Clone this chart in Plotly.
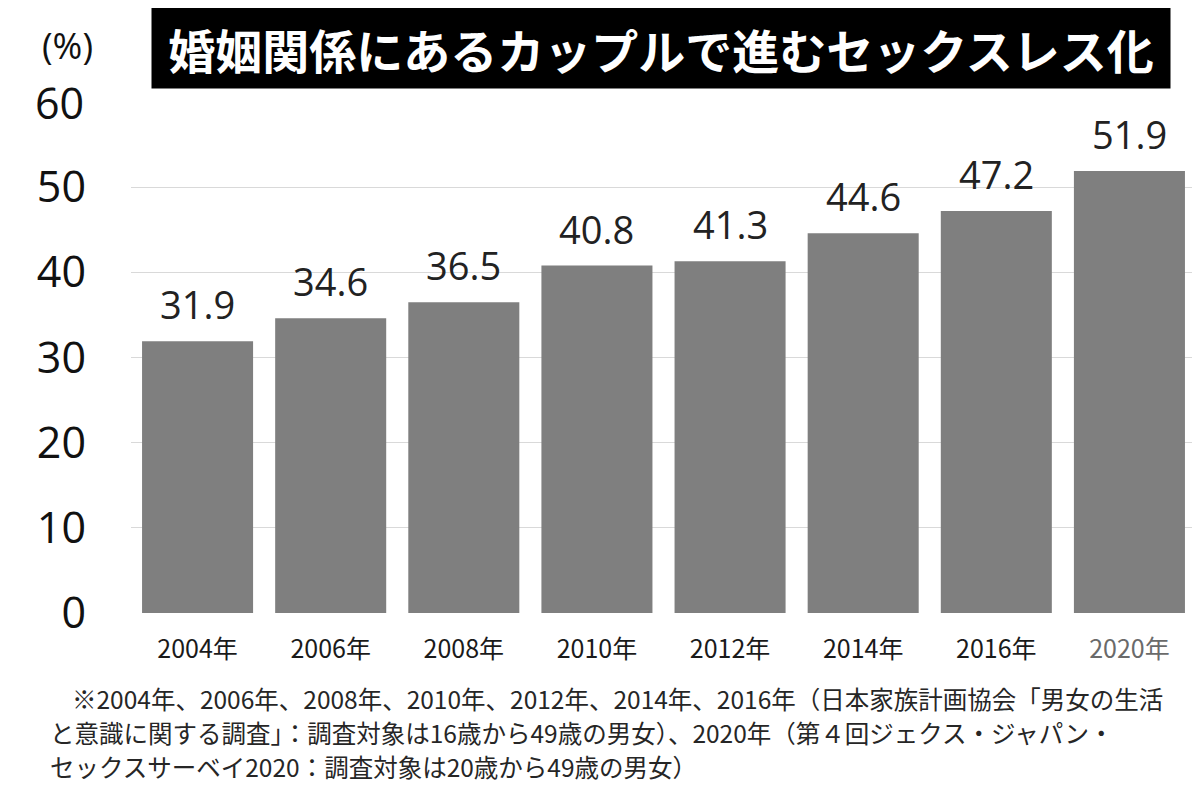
import plotly.graph_objects as go

categories = ["2004年", "2006年", "2008年", "2010年", "2012年", "2014年", "2016年", "2020年"]
values = [31.9, 34.6, 36.5, 40.8, 41.3, 44.6, 47.2, 51.9]
tick_colors = ["#1a1a1a"] * 7 + ["#6a6a6a"]
grid_ticks = [0, 10, 20, 30, 40, 50]
top_tick = 60

title_text = "婚姻関係にあるカップルで進むセックスレス化"
unit_text = "(%)"
note_lines = [
    "※2004年、2006年、2008年、2010年、2012年、2014年、2016年（日本家族計画協会「男女の生活",
    "と意識に関する調査」：調査対象は16歳から49歳の男女）、2020年（第４回ジェクス・ジャパン・",
    "セックスサーベイ2020：調査対象は20歳から49歳の男女）",
]

# page has an 8px body margin; build figure in page coordinates
OFF = 8
W, H = 1192, 793
PLOT_L, PLOT_R, PLOT_T, PLOT_B = 131, 1196, 101.5, 613   # in page pixels
L = PLOT_L - OFF
R = W - (PLOT_R - OFF)
T = PLOT_T - OFF
B = H - (PLOT_B - OFF)
PW, PH = W - L - R, H - T - B


def px(x):
    return (x - OFF - L) / PW


def py(y):
    return (H - B - (y - OFF)) / PH


fig = go.Figure()
fig.add_trace(go.Bar(
    x=categories, y=values,
    marker=dict(color="#7f7f7f", line=dict(width=0)),
    hoverinfo="skip",
))

for cat, v in zip(categories, values):
    fig.add_annotation(
        x=cat, y=v, xref="x", yref="y", text=f"{v:.1f}",
        showarrow=False, yanchor="bottom", yshift=9,
        font=dict(family="Open Sans", size=38, color="#222222"),
    )

# top tick label (no gridline drawn at the top of the reference)
fig.add_annotation(
    x=px(86), y=top_tick, xref="paper", yref="y", text=str(top_tick),
    showarrow=False, xanchor="right", yanchor="middle",
    font=dict(family="Open Sans", size=43, color="#111111"),
)

fig.add_annotation(
    x=px(661), y=py(47), xref="paper", yref="paper",
    text=f"<b>{title_text}</b>", showarrow=False,
    xanchor="center", yanchor="middle",
    bgcolor="#000000", width=1010, height=72, borderpad=4,
    font=dict(family="Noto Sans CJK JP", size=47, color="#ffffff"),
)
fig.add_annotation(
    x=px(67), y=py(45), xref="paper", yref="paper",
    text=unit_text, showarrow=False, xanchor="center", yanchor="middle",
    font=dict(family="Open Sans", size=36, color="#111111"),
)

note_x = [70, 48, 48]
note_y = [699, 733, 767]
for t, nx, ny in zip(note_lines, note_x, note_y):
    fig.add_annotation(
        x=px(nx), y=py(ny), xref="paper", yref="paper",
        text=t, showarrow=False, xanchor="left", yanchor="middle", align="left",
        font=dict(family="Noto Sans CJK JP", size=24.5, color="#262626"),
    )

tick_text = [f"<span style='color:{c}'>{t}</span>" for t, c in zip(categories, tick_colors)]

fig.update_layout(
    width=W, height=H,
    margin=dict(l=L, r=R, t=T, b=B, autoexpand=False),
    paper_bgcolor="#ffffff", plot_bgcolor="#ffffff",
    showlegend=False,
    bargap=0.166,
    xaxis=dict(
        type="category", categoryorder="array", categoryarray=categories,
        tickvals=categories, ticktext=tick_text,
        range=[-0.5, len(categories) - 0.5],
        showgrid=False, zeroline=False, showline=False, ticks="",
        tickfont=dict(family="Noto Sans CJK JP", size=25, color="#1a1a1a"),
        ticklabelstandoff=19,
    ),
    yaxis=dict(
        range=[0, 60], tickvals=grid_ticks,
        showgrid=True, gridcolor="#d9d9d9", gridwidth=1,
        zeroline=False, showline=False, ticks="", ticklabelstandoff=44,
        tickfont=dict(family="Open Sans", size=43, color="#111111"),
    ),
)

fig.write_html("out.html")
